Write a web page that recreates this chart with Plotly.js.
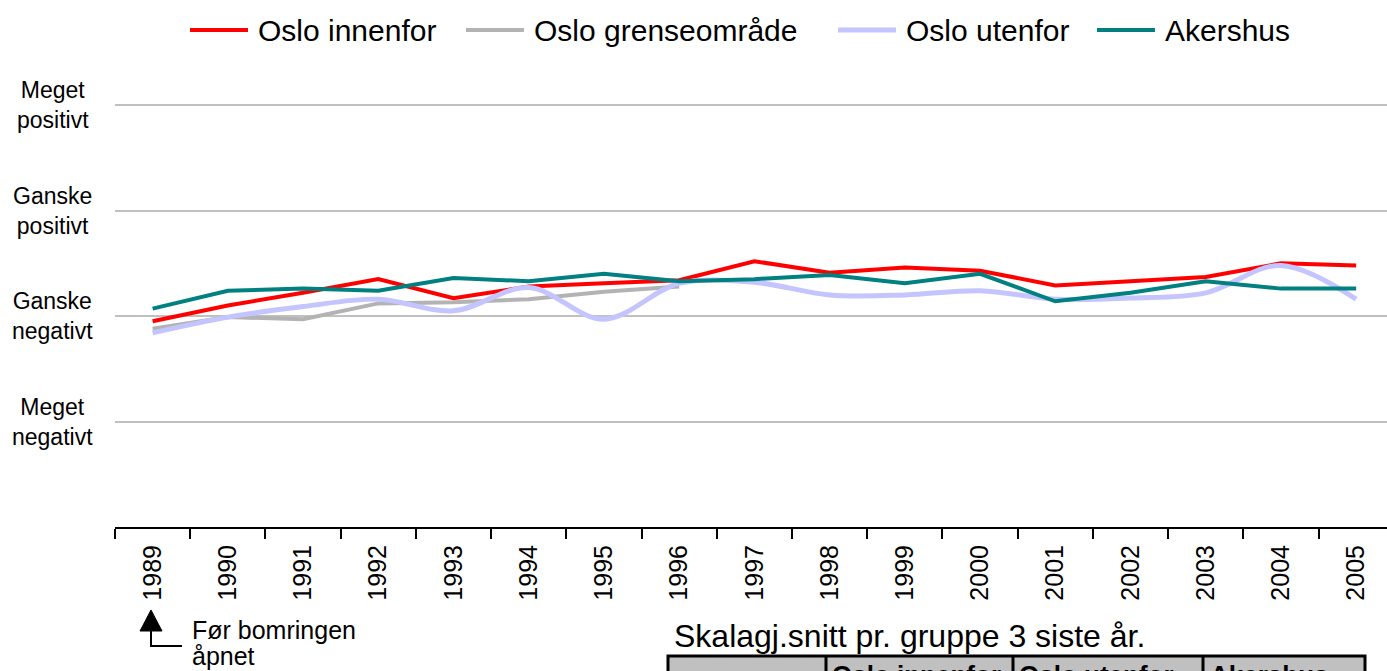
<!DOCTYPE html>
<html>
<head>
<meta charset="utf-8">
<script src="https://cdn.plot.ly/plotly-3.0.1.min.js"></script>
<style>html,body{margin:0;padding:0;background:#fff;}#chart{width:1387px;height:671px;}</style>
</head>
<body>
<div id="chart"></div>
<script>
// ---- data ----
const years = ['1989','1990','1991','1992','1993','1994','1995','1996','1997','1998','1999','2000','2001','2002','2003','2004','2005'];
const osloInnenfor = [1.95,2.10,2.22,2.35,2.17,2.28,2.31,2.34,2.52,2.41,2.46,2.43,2.29,2.33,2.37,2.50,2.48];
const osloGrense   = [1.88,1.99,1.97,2.12,2.13,2.16,2.23,2.28,null,null,null,null,null,null,null,null,null];
const osloUtenfor  = [1.84,1.99,2.09,2.16,2.05,2.27,1.97,2.31,2.32,2.20,2.20,2.24,2.16,2.17,2.22,2.48,2.16];
const akershus     = [2.07,2.24,2.26,2.24,2.36,2.33,2.40,2.33,2.35,2.39,2.31,2.40,2.14,2.22,2.33,2.26,2.26];
const seriesNames  = ['Oslo innenfor','Oslo grenseområde','Oslo utenfor','Akershus'];
const scaleVals    = [1,2,3,4];
const scaleLabels  = ['Meget<br>negativt','Ganske<br>negativt','Ganske<br>positivt','Meget<br>positivt'];
const noteLines    = ['Før bomringen','åpnet'];
const tableTitle   = 'Skalagj.snitt pr. gruppe 3 siste år.';
const tableHeaders = ['Oslo innenfor','Oslo utenfor','Akershus'];

// ---- layout helpers (pixel -> paper) ----
const W = 1387, H = 671, ML = 115, MR = 0, MT = 84, MB = 144;
const PW = W - ML - MR, PH = H - MT - MB;
const px = x => (x - ML) / PW;
const py = y => (H - MB - y) / PH;
const FONT = 'Liberation Sans, Arial, sans-serif';

const colors = ['#ff0000','#b3b3b3','#c4c4ff','#008080'];
const widths = [4,4,5,4];
const vals = [osloInnenfor, osloGrense, osloUtenfor, akershus];

const traces = vals.map((v,i) => ({
  type: 'scatter', mode: 'lines', x: years, y: v, name: seriesNames[i],
  line: {color: colors[i], width: widths[i], shape: i === 2 ? 'spline' : 'linear', smoothing: 1},
  connectgaps: false, hoverinfo: 'x+y+name', showlegend: false
}));

const annotations = scaleVals.map((v,i) => ({
  xref: 'paper', yref: 'y', x: px(53), y: v, text: scaleLabels[i],
  showarrow: false, xanchor: 'center', yanchor: 'middle', align: 'center',
  font: {family: FONT, size: 23, color: '#000'}
}));
const shapes = [];

// legend (drawn by hand to match item spacing)
const legLineX = [190, 466, 838, 1097];
const legY = 30;
seriesNames.forEach((n,i) => {
  shapes.push({type: 'line', xref: 'paper', yref: 'paper',
    x0: px(legLineX[i]), x1: px(legLineX[i] + 58), y0: py(legY), y1: py(legY),
    line: {color: colors[i], width: widths[i]}});
  annotations.push({xref: 'paper', yref: 'paper', x: px(legLineX[i] + 66), y: py(legY),
    text: n, showarrow: false, xanchor: 'left', yanchor: 'middle',
    font: {family: FONT, size: 30, color: '#000'}});
});

noteLines.forEach((t,i) => annotations.push({
  xref: 'paper', yref: 'paper', x: px(190), y: py(630 + i * 26), text: t,
  showarrow: false, xanchor: 'left', yanchor: 'middle', align: 'left',
  font: {family: FONT, size: 25, color: '#000'}
}));
annotations.push({
  xref: 'paper', yref: 'paper', x: px(672), y: py(636), text: tableTitle,
  showarrow: false, xanchor: 'left', yanchor: 'middle', align: 'left',
  font: {family: FONT, size: 32, color: '#000'}
});
const headerX = [830, 1017, 1208];
tableHeaders.forEach((t,i) => annotations.push({
  xref: 'paper', yref: 'paper', x: px(headerX[i]), y: py(658), text: '<b>' + t + '</b>',
  showarrow: false, xanchor: 'left', yanchor: 'top', align: 'left',
  font: {family: FONT, size: 26, color: '#000'}
}));

shapes.push(
  {type: 'path', xref: 'paper', yref: 'paper',
   path: `M ${px(140)} ${py(631)} L ${px(162)} ${py(631)} L ${px(151)} ${py(610)} Z`,
   fillcolor: '#000', line: {color: '#000', width: 1}},
  {type: 'path', xref: 'paper', yref: 'paper',
   path: `M ${px(151)} ${py(630)} L ${px(151)} ${py(646)} L ${px(182)} ${py(646)}`,
   line: {color: '#000', width: 2}},
  {type: 'rect', xref: 'paper', yref: 'paper', x0: px(668), x1: px(1365), y0: py(656), y1: py(700),
   fillcolor: '#c0c0c0', line: {color: '#000', width: 3}}
);
[826, 1013, 1203].forEach(x => shapes.push({
  type: 'line', xref: 'paper', yref: 'paper', x0: px(x), x1: px(x), y0: py(656), y1: py(700),
  line: {color: '#000', width: 3}
}));

const layout = {
  width: W, height: H, autosize: false,
  margin: {l: ML, r: MR, t: MT, b: MB, pad: 0},
  paper_bgcolor: '#fff', plot_bgcolor: '#fff',
  font: {family: FONT, color: '#000'},
  showlegend: false,
  xaxis: {type: 'category', range: [-0.5, 16.41], tickson: 'boundaries', ticks: 'outside',
          ticklen: 10, tickwidth: 2, tickcolor: '#000', showline: true, linecolor: '#000',
          linewidth: 2, tickangle: -90, ticklabelstandoff: 6,
          tickfont: {family: FONT, size: 25, color: '#000'},
          showgrid: false, zeroline: false, fixedrange: true},
  yaxis: {range: [0, 4.2], tickvals: scaleVals, showticklabels: false, ticks: '',
          showgrid: true, gridcolor: '#c0c0c0', gridwidth: 2, zeroline: false,
          showline: false, fixedrange: true},
  annotations: annotations,
  shapes: shapes
};

Plotly.newPlot('chart', traces, layout, {displayModeBar: false});
</script>
</body>
</html>
